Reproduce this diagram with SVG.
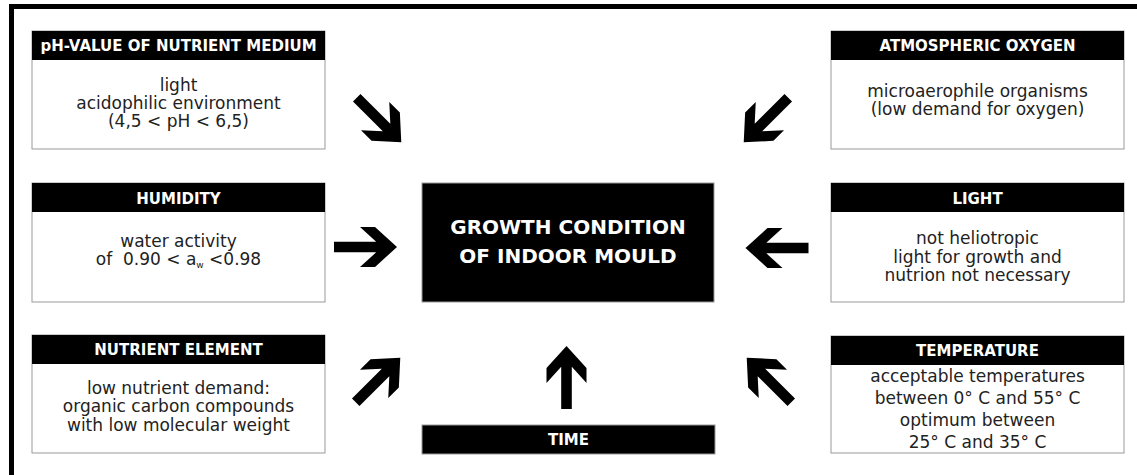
<svg xmlns="http://www.w3.org/2000/svg" xmlns:xlink="http://www.w3.org/1999/xlink" width="1137" height="475" viewBox="0 0 1137 475">
<style>
.box{fill:#fff;stroke:#999;stroke-width:1}
.hdr{fill:#000}
.ht{font-family:"DejaVu Sans",sans-serif;font-weight:bold;font-size:15px;fill:#fff;text-anchor:middle}
.bt{font-family:"DejaVu Sans",sans-serif;font-size:17px;fill:#222;text-anchor:middle;white-space:pre}
.ct{font-family:"DejaVu Sans",sans-serif;font-weight:bold;font-size:20px;fill:#fff;text-anchor:middle}
.arr{fill:#000}
</style>
<defs>
<path id="arrow" d="M-31.5,-5.3 L10.7,-5.3 L-5.5,-20 L9.5,-20 L31.5,0 L9.5,20 L-5.5,20 L10.7,5.3 L-31.5,5.3 Z"/>
</defs>
<rect width="1137" height="475" fill="#fff"/>
<path d="M11.5,480 V6.5 H1140" fill="none" stroke="#000" stroke-width="5"/>

<g id="ph">
<rect class="box" x="32" y="31" width="293" height="118"/>
<rect class="hdr" x="32" y="31" width="293" height="29"/>
<text class="ht" x="178.5" y="51">pH-VALUE OF NUTRIENT MEDIUM</text>
<text class="bt" x="178.5" y="91">light</text>
<text class="bt" x="178.5" y="109">acidophilic environment</text>
<text class="bt" x="178.5" y="127">(4,5 &lt; pH &lt; 6,5)</text>
</g>

<g id="oxygen">
<rect class="box" x="831" y="31" width="293" height="118"/>
<rect class="hdr" x="831" y="31" width="293" height="29"/>
<text class="ht" x="977.5" y="51">ATMOSPHERIC OXYGEN</text>
<text class="bt" x="977.5" y="97">microaerophile organisms</text>
<text class="bt" x="977.5" y="115">(low demand for oxygen)</text>
</g>

<g id="humidity">
<rect class="box" x="32" y="183" width="293" height="119"/>
<rect class="hdr" x="32" y="183" width="293" height="29"/>
<text class="ht" x="178.5" y="203.5">HUMIDITY</text>
<text class="bt" x="178.5" y="247">water activity</text>
<text class="bt" x="178.5" y="264.5">of  0.90 &lt; a<tspan font-size="9" dy="3">w</tspan><tspan dy="-3"> &lt;0.98</tspan></text>
</g>

<g id="light">
<rect class="box" x="831" y="183" width="293" height="119"/>
<rect class="hdr" x="831" y="183" width="293" height="29"/>
<text class="ht" x="977.5" y="203.5">LIGHT</text>
<text class="bt" x="977.5" y="244">not heliotropic</text>
<text class="bt" x="977.5" y="262.5">light for growth and</text>
<text class="bt" x="977.5" y="281">nutrion not necessary</text>
</g>

<g id="nutrient">
<rect class="box" x="32" y="335" width="293" height="118"/>
<rect class="hdr" x="32" y="335" width="293" height="29"/>
<text class="ht" x="178.5" y="355">NUTRIENT ELEMENT</text>
<text class="bt" x="178.5" y="394">low nutrient demand:</text>
<text class="bt" x="178.5" y="412">organic carbon compounds</text>
<text class="bt" x="178.5" y="430.5">with low molecular weight</text>
</g>

<g id="temperature">
<rect class="box" x="831" y="336" width="293" height="117"/>
<rect class="hdr" x="831" y="336" width="293" height="29"/>
<text class="ht" x="977.5" y="355.5">TEMPERATURE</text>
<text class="bt" x="977.5" y="382">acceptable temperatures</text>
<text class="bt" x="977.5" y="404">between 0° C and 55° C</text>
<text class="bt" x="977.5" y="426">optimum between</text>
<text class="bt" x="977.5" y="447.5">25° C and 35° C</text>
</g>

<g id="center">
<rect x="422" y="183" width="292" height="119" fill="#000" stroke="#999" stroke-width="1"/>
<text class="ct" x="568" y="234">GROWTH CONDITION</text>
<text class="ct" x="568" y="263">OF INDOOR MOULD</text>
</g>

<g id="time">
<rect x="422" y="425" width="293" height="29" fill="#000" stroke="#999" stroke-width="1"/>
<text class="ht" x="568.5" y="445">TIME</text>
</g>

<g id="connectors" class="arr">
<use xlink:href="#arrow" transform="translate(379,120) rotate(45)"/>
<use xlink:href="#arrow" transform="translate(766,120) rotate(135)"/>
<use xlink:href="#arrow" transform="translate(365.5,247)"/>
<use xlink:href="#arrow" transform="translate(777,248) rotate(180)"/>
<use xlink:href="#arrow" transform="translate(378,380) rotate(-45)"/>
<use xlink:href="#arrow" transform="translate(566.5,377.5) rotate(-90)"/>
<use xlink:href="#arrow" transform="translate(769,380) rotate(-135)"/>
</g>
</svg>
